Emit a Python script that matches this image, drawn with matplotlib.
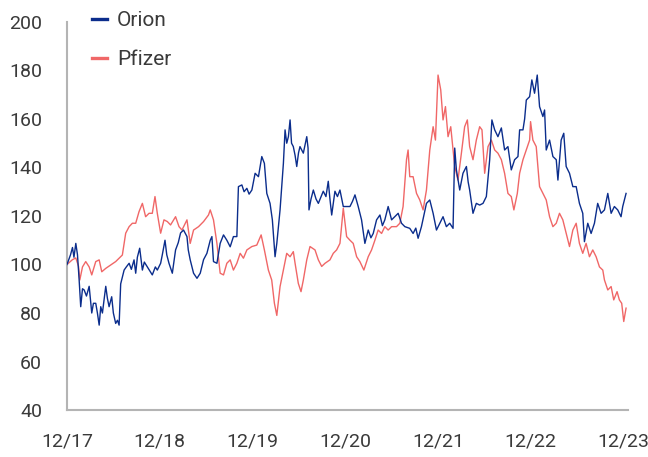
import matplotlib
matplotlib.use("Agg")
import matplotlib.pyplot as plt

# years since 12/17, indexed value (12/17 = 100)
orion_t = [0.00, 0.038, 0.059, 0.075, 0.095, 0.113, 0.131, 0.148, 0.167, 0.185,
           0.210, 0.239, 0.267, 0.285, 0.310, 0.328, 0.347, 0.364, 0.382, 0.418,
           0.436, 0.454, 0.482, 0.500, 0.525, 0.544, 0.562, 0.579, 0.616, 0.640,
           0.670, 0.694, 0.723, 0.741, 0.759, 0.784, 0.813, 0.834, 0.867, 0.899,
           0.920, 0.953, 0.974, 1.010, 1.028, 1.057, 1.076, 1.100, 1.136, 1.171,
           1.200, 1.225, 1.257, 1.294, 1.308, 1.329, 1.365, 1.402, 1.437, 1.473,
           1.509, 1.545, 1.563, 1.580, 1.617, 1.652, 1.688, 1.724, 1.760, 1.795,
           1.832, 1.849, 1.886, 1.910, 1.940, 1.964, 1.994, 2.029, 2.065, 2.101,
           2.129, 2.155, 2.190, 2.215, 2.244, 2.263, 2.298, 2.334, 2.352, 2.370,
           2.388, 2.406, 2.422, 2.441, 2.460, 2.478, 2.497, 2.513, 2.549, 2.586,
           2.600, 2.610, 2.632, 2.657, 2.686, 2.711, 2.740, 2.764, 2.793, 2.818,
           2.836, 2.855, 2.890, 2.917, 2.944, 2.980, 3.016, 3.052, 3.079, 3.106,
           3.141, 3.177, 3.213, 3.249, 3.278, 3.303, 3.339, 3.375, 3.402, 3.428,
           3.464, 3.501, 3.536, 3.572, 3.608, 3.644, 3.697, 3.733, 3.762, 3.787,
           3.823, 3.848, 3.877, 3.913, 3.949, 3.985, 4.021, 4.056, 4.092, 4.128,
           4.164, 4.182, 4.200, 4.217, 4.236, 4.271, 4.308, 4.327, 4.343, 4.379,
           4.415, 4.451, 4.487, 4.523, 4.559, 4.583, 4.613, 4.648, 4.685, 4.720,
           4.756, 4.792, 4.828, 4.864, 4.882, 4.918, 4.936, 4.954, 4.990, 5.014,
           5.043, 5.072, 5.097, 5.133, 5.151, 5.169, 5.205, 5.241, 5.277, 5.295,
           5.330, 5.358, 5.384, 5.420, 5.456, 5.492, 5.527, 5.563, 5.581, 5.617,
           5.653, 5.689, 5.724, 5.761, 5.797, 5.833, 5.869, 5.904, 5.940, 5.976,
           5.994, 6.030]
orion = [100, 104, 107, 103, 108.7, 104, 93.6, 82.6, 90, 89.5,
         87, 91, 80, 84, 84, 80, 75, 82.6, 80, 91,
         86, 82.6, 86.7, 80, 75.7, 77, 75, 92, 97.7, 99,
         100.5, 98, 101.9, 96.4, 103, 106.7, 97.7, 101, 99, 97,
         95.7, 99, 97.7, 100.5, 104, 110, 104, 100.5, 96.4, 106,
         109, 113, 114.2, 111.5, 106, 101.9, 96.4, 94.3, 96.4, 102,
         104.6, 110, 111.5, 101.2, 100.5, 108.7, 112.2, 110, 107.3, 111.5,
         111.5, 132.1, 132.8, 130, 131.4, 129, 130.7, 137.6, 136.2, 144.5,
         141.7, 129.3, 125.2, 118.4, 103.2, 108.7, 122.5, 141.7, 155.5, 150,
         152.7, 159.6, 150, 148.6, 145, 140.4, 146, 148.6, 145.9, 152.7,
         148, 122.5, 127, 130.7, 127, 125.2, 128, 130.2, 128, 134.3,
         127, 120.4, 130.2, 128, 130.7, 123.9, 123.9, 123.9, 126, 128.7,
         123.9, 118.4, 108.7, 114.2, 111, 112.8, 118.4, 120.4, 116, 118.4,
         123.9, 118.4, 119.7, 121.1, 117, 115.6, 114.9, 112.8, 115, 110.8,
         115.6, 120, 125.2, 126.6, 121.1, 114.2, 117, 119.7, 115.6, 117,
         114.9, 148, 139, 135, 130.7, 137.6, 140.4, 134, 130.7, 121.1,
         125.2, 124.5, 125.2, 128, 143.2, 159.6, 155.5, 152.7, 156.3, 147.2,
         148.6, 139, 143.2, 144.5, 155.5, 155.5, 160, 167.8, 169.2, 176.1,
         170.6, 178.1, 165.1, 161, 163.7, 147.2, 151.3, 144.5, 143.2, 134.8,
         151.3, 154.1, 140.4, 137.6, 132.1, 132.1, 125.2, 121.1, 109.4, 117,
         112.8, 117, 125.2, 121.1, 122.5, 129.3, 121.1, 123.9, 122.5, 119.7,
         123.9, 129.3]

pfizer_t = [0.00, 0.059, 0.095, 0.124, 0.138, 0.167, 0.202, 0.239, 0.267, 0.310,
            0.347, 0.375, 0.418, 0.471, 0.525, 0.562, 0.597, 0.633, 0.670, 0.705,
            0.741, 0.777, 0.813, 0.848, 0.885, 0.920, 0.949, 0.974, 1.010, 1.046,
            1.082, 1.117, 1.171, 1.208, 1.240, 1.294, 1.329, 1.365, 1.419, 1.473,
            1.526, 1.545, 1.580, 1.617, 1.652, 1.688, 1.724, 1.760, 1.795, 1.832,
            1.868, 1.903, 1.940, 1.994, 2.047, 2.094, 2.129, 2.172, 2.208, 2.237,
            2.263, 2.298, 2.334, 2.370, 2.406, 2.441, 2.460, 2.495, 2.524, 2.549,
            2.586, 2.621, 2.675, 2.711, 2.747, 2.783, 2.836, 2.872, 2.908, 2.944,
            2.980, 3.016, 3.052, 3.087, 3.124, 3.159, 3.202, 3.249, 3.285, 3.321,
            3.356, 3.393, 3.428, 3.464, 3.501, 3.554, 3.590, 3.625, 3.662, 3.679,
            3.697, 3.733, 3.770, 3.805, 3.841, 3.877, 3.913, 3.949, 3.974, 4.002,
            4.031, 4.056, 4.082, 4.110, 4.139, 4.182, 4.217, 4.254, 4.289, 4.318,
            4.343, 4.379, 4.415, 4.451, 4.476, 4.505, 4.541, 4.577, 4.613, 4.648,
            4.685, 4.720, 4.756, 4.792, 4.820, 4.857, 4.882, 4.918, 4.954, 4.990,
            5.000, 5.025, 5.061, 5.097, 5.133, 5.169, 5.205, 5.241, 5.277, 5.312,
            5.348, 5.384, 5.420, 5.456, 5.492, 5.527, 5.563, 5.599, 5.635, 5.671,
            5.707, 5.743, 5.779, 5.797, 5.833, 5.869, 5.897, 5.933, 5.958, 5.983,
            6.005, 6.030]
pfizer = [100, 102, 102.7, 99.3, 93.6, 99, 101.2, 99, 95.7, 101.2,
          101.9, 97, 98.4, 99.8, 101.2, 102.6, 103.9, 112.9, 115.6, 117,
          117, 121.8, 125.2, 119.7, 121.1, 121.1, 128, 121.1, 112.9, 118.4,
          117.7, 116.3, 119.7, 115.6, 114.2, 118.4, 108.7, 114.2, 115.6, 117.7,
          120.4, 122.5, 118.4, 108.7, 96.4, 95.7, 100.5, 101.9, 97.7, 100.5,
          104.6, 102.6, 106, 107.4, 108, 112.2, 106, 97.7, 93.6, 84,
          79, 90.9, 97.7, 104.6, 103.2, 105.3, 100.5, 92.2, 88.8, 93.6,
          101.9, 107.4, 106, 101.9, 99.2, 100.5, 101.9, 104.6, 106, 108.7,
          123.2, 111.5, 110, 108.7, 103.2, 101.2, 97.7, 103.2, 106, 110,
          114.2, 112.8, 115.6, 114.2, 115.6, 115.6, 117, 123.9, 143.2, 147.2,
          136.2, 136.2, 129.3, 126.6, 122.5, 130.7, 147.2, 156.8, 151.3, 178.1,
          172, 159.6, 165.1, 152.7, 156.8, 140.4, 134.8, 145.9, 156.8, 159.6,
          148.6, 143.2, 151.3, 156.8, 155.5, 137.6, 148.6, 151.3, 147.2, 145.9,
          143.2, 137.6, 129.3, 128, 122.5, 129.3, 137.6, 143.2, 147.2, 151.3,
          158.9, 151.3, 148.6, 132.1, 129.3, 126.6, 119.7, 115.6, 117, 121.1,
          118.4, 112.9, 107.4, 114.2, 117, 108.7, 104.6, 108.7, 103.2, 106,
          103.2, 99, 97.7, 93.6, 89.5, 90.9, 85.4, 88.8, 85.4, 84,
          76.5, 82]

year_ticks = [0, 1, 2, 3, 4, 5, 6]
year_labels = ["12/17", "12/18", "12/19", "12/20", "12/21", "12/22", "12/23"]
y_ticks = [40, 60, 80, 100, 120, 140, 160, 180, 200]

plt.rcParams["font.family"] = ["Roboto", "DejaVu Sans"]

fig = plt.figure(figsize=(6.48, 4.57), dpi=100)
ax = fig.add_axes([0.1034, 0.1028, 0.8656, 0.8492])

ax.plot(orion_t, orion, color="#0b2d8c", lw=1.0, label="Orion", zorder=3)
ax.plot(pfizer_t, pfizer, color="#f06767", lw=1.0, label="Pfizer", zorder=2)

ax.set_xlim(0, 6.05)
ax.set_ylim(40, 200)
ax.set_xticks(year_ticks)
ax.set_xticklabels(year_labels)
ax.set_yticks(y_ticks)

for s in ["top", "right"]:
    ax.spines[s].set_visible(False)
for s in ["left", "bottom"]:
    ax.spines[s].set_color("#b4b4b4")
    ax.spines[s].set_linewidth(1.5)

ax.tick_params(axis="both", length=0, labelsize=14, colors="#3a3a3a")
ax.tick_params(axis="y", pad=18)
ax.tick_params(axis="x", pad=16)

leg = ax.legend(loc="upper left", bbox_to_anchor=(0.0446, 1.028), frameon=False,
                fontsize=15, handlelength=0.7, handletextpad=0.5,
                labelspacing=0.95, borderaxespad=0, borderpad=0)
for line in leg.get_lines():
    line.set_linewidth(2.4)
for txt in leg.get_texts():
    txt.set_color("#3a3a3a")

fig.savefig("out.png", dpi=100)
